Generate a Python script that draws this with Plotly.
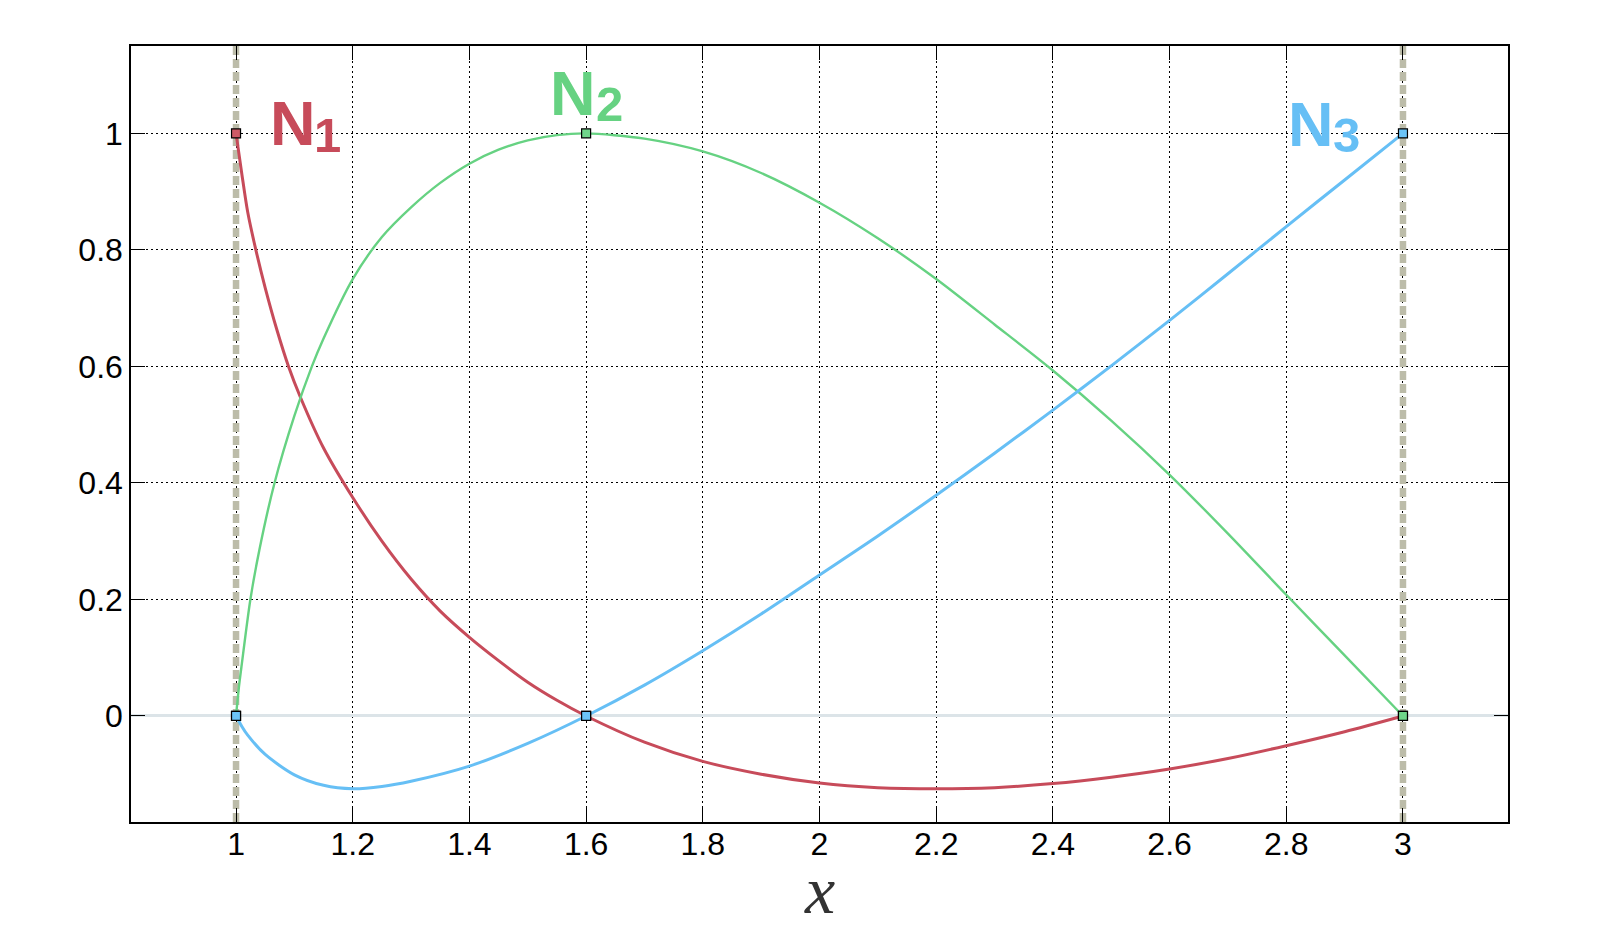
import plotly.graph_objects as go

# nodes of the element
node_x = [1.0, 1.6, 3.0]
elem_ends = [1.0, 3.0]

# shape functions
n1_x = [1.00, 1.01, 1.02, 1.034, 1.05, 1.07, 1.09, 1.11, 1.15, 1.20, 1.25, 1.30, 1.35,
        1.40, 1.45, 1.50, 1.55, 1.60, 1.70, 1.80, 1.90, 2.00, 2.10, 2.20, 2.30, 2.40,
        2.50, 2.60, 2.70, 2.80, 2.90, 3.00]
n1_y = [1.00, 0.93, 0.865, 0.80, 0.735, 0.663, 0.60, 0.548, 0.46, 0.375, 0.30, 0.235,
        0.18, 0.135, 0.095, 0.058, 0.027, 0.0, -0.045, -0.078, -0.100, -0.115, -0.123,
        -0.125, -0.123, -0.116, -0.105, -0.091, -0.073, -0.051, -0.027, 0.0]

n2_x = [1.00, 1.005, 1.01, 1.0246, 1.04, 1.066, 1.10, 1.13, 1.15, 1.20, 1.25, 1.30, 1.35,
        1.40, 1.45, 1.50, 1.55, 1.60, 1.70, 1.80, 1.90, 2.00, 2.10, 2.20, 2.30, 2.40,
        2.50, 2.60, 2.70, 2.80, 2.90, 3.00]
n2_y = [0.0, 0.05, 0.09, 0.20, 0.285, 0.40, 0.515, 0.60, 0.648, 0.75, 0.822, 0.873, 0.915,
        0.948, 0.972, 0.988, 0.997, 1.00, 0.991, 0.969, 0.932, 0.881, 0.820, 0.750, 0.672,
        0.593, 0.507, 0.414, 0.313, 0.208, 0.104, 0.0]

n3_x = [1.00, 1.01, 1.02, 1.05, 1.10, 1.15, 1.20, 1.25, 1.30, 1.40, 1.50, 1.60, 1.70,
        1.80, 1.90, 2.00, 2.10, 2.20, 2.30, 2.40, 2.50, 2.60, 2.70, 2.80, 2.90, 3.00]
n3_y = [0.0, -0.018, -0.033, -0.066, -0.101, -0.119, -0.125, -0.121, -0.112, -0.086,
        -0.047, 0.0, 0.053, 0.112, 0.175, 0.242, 0.309, 0.379, 0.451, 0.525, 0.601,
        0.679, 0.759, 0.840, 0.920, 1.00]

n1_nodes = [1, 0, 0]
n2_nodes = [0, 1, 0]
n3_nodes = [0, 0, 1]

x_ticks = [1, 1.2, 1.4, 1.6, 1.8, 2, 2.2, 2.4, 2.6, 2.8, 3]
y_ticks = [0, 0.2, 0.4, 0.6, 0.8, 1]

x_range = [0.82, 3.18]
y_range = [-0.182, 1.15]

RED, GREEN, BLUE = "#c74b5a", "#66d282", "#66bff5"

curves = [
    (n1_x, n1_y, n1_nodes, RED, "#cd5a66", 3),
    (n2_x, n2_y, n2_nodes, GREEN, "#6fd68a", 2.4),
    (n3_x, n3_y, n3_nodes, BLUE, "#6cc4f7", 3),
]

fig = go.Figure()

# element boundaries (dashed), above grid and below the curves
for xe in elem_ends:
    fig.add_trace(go.Scatter(
        x=[xe, xe], y=y_range, mode="lines",
        line=dict(color="#bcbca9", width=6.5, dash="9px,4px"),
        hoverinfo="skip", showlegend=False,
    ))

for xs, ys, nodes, col, fill, w in curves:
    fig.add_trace(go.Scatter(
        x=xs, y=ys,
        mode="lines",
        line=dict(color=col, width=w, shape="spline", smoothing=0.8),
        hoverinfo="skip",
        showlegend=False,
    ))
for xs, ys, nodes, col, fill, w in curves:
    fig.add_trace(go.Scatter(
        x=node_x, y=nodes,
        mode="markers",
        marker=dict(symbol="square", size=9, color=fill, line=dict(color="black", width=1.2)),
        showlegend=False,
    ))

# curve labels: big "N" and its index placed separately
labels = [
    ("1", RED, (1.098, 1.017), (1.157, 0.997)),
    ("2", GREEN, (1.577, 1.069), (1.640, 1.050)),
    ("3", BLUE, (2.842, 1.016), (2.904, 0.997)),
]
for idx, col, (nx, ny), (sx, sy) in labels:
    fig.add_annotation(
        x=nx, y=ny, text="N", showarrow=False, xanchor="center", yanchor="middle",
        font=dict(family="Liberation Sans, Arial", size=63, color=col, weight="bold"),
    )
    fig.add_annotation(
        x=sx, y=sy, text=idx, showarrow=False, xanchor="center", yanchor="middle",
        font=dict(family="Liberation Sans, Arial", size=49, color=col, weight="bold"),
    )

# x axis label
fig.add_annotation(
    x=0.5, y=0, xref="paper", yref="paper", text="x", showarrow=False,
    xanchor="center", yanchor="middle", yshift=-68, height=48,
    font=dict(family="Liberation Serif, serif", size=68, color="#333333", style="italic"),
)

axis_common = dict(
    showline=True, linecolor="black", linewidth=1.5, mirror="ticks",
    ticks="inside", ticklen=14, tickwidth=1.2, tickcolor="black",
    showgrid=True, gridcolor="black", gridwidth=1, griddash="1.5px,3.5px",
    tickfont=dict(family="Liberation Sans, Arial", size=32, color="black"),
)

fig.update_xaxes(
    range=x_range, tickvals=x_ticks, zeroline=False, ticklabelstandoff=-7,
    **axis_common,
)
fig.update_yaxes(
    range=y_range, tickvals=y_ticks,
    zeroline=True, zerolinecolor="#dce4e8", zerolinewidth=2.5,
    **axis_common,
)

fig.update_layout(
    width=1600, height=950,
    margin=dict(l=123, r=100, t=38, b=136),
    paper_bgcolor="white", plot_bgcolor="white",
)

fig.write_html("out.html")
